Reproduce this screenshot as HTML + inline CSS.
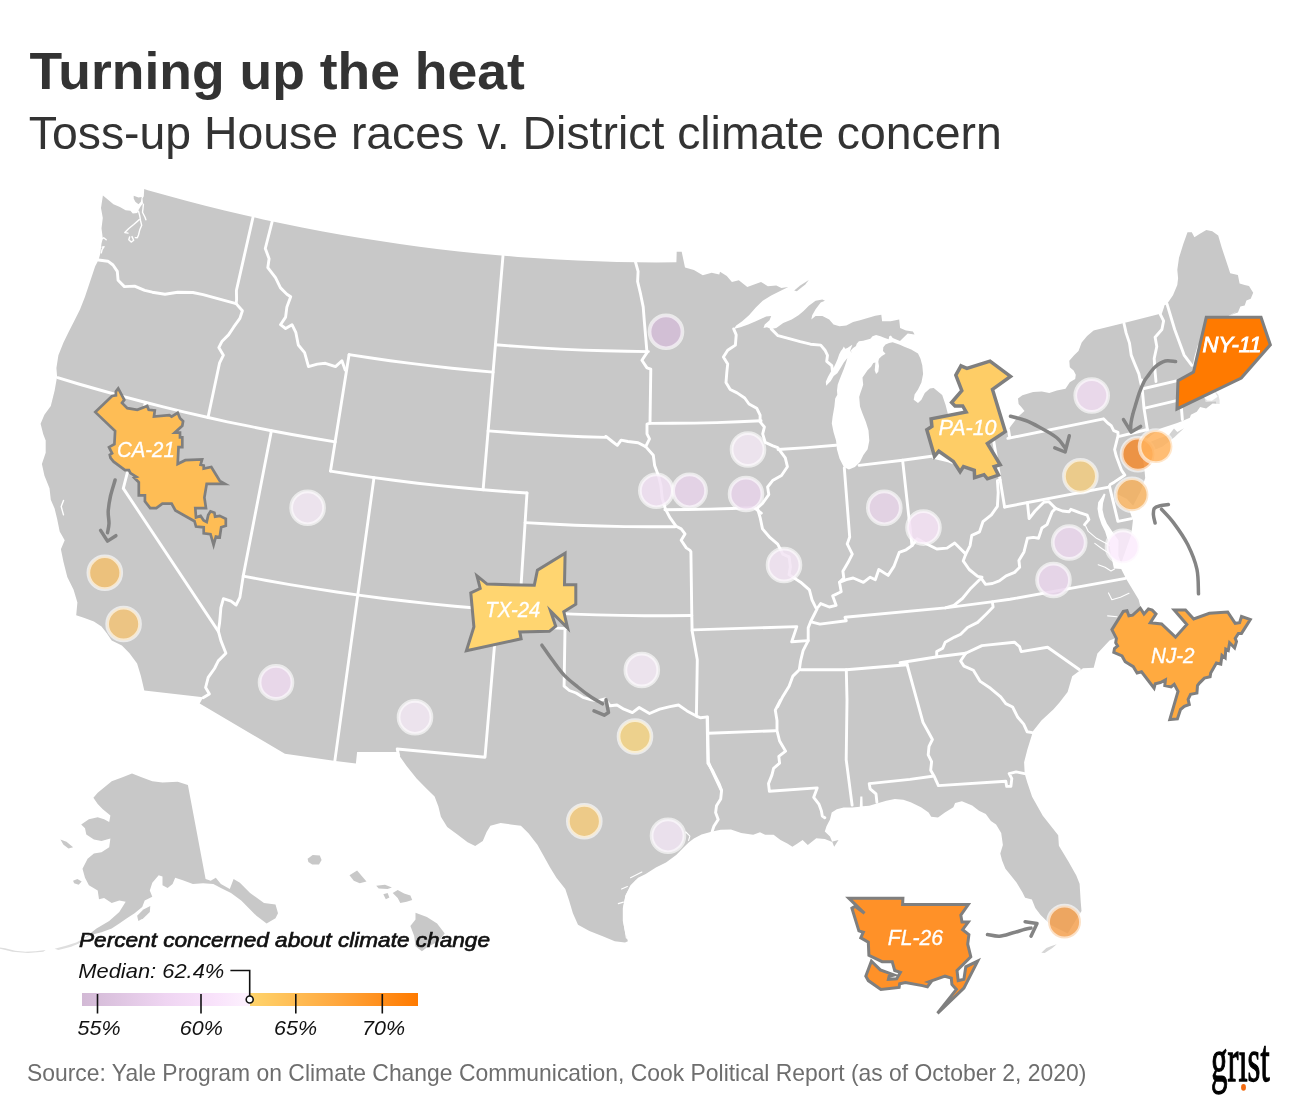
<!DOCTYPE html>
<html lang="en"><head><meta charset="utf-8"><title>Turning up the heat</title><style>html,body{margin:0;padding:0;background:#fff}svg{display:block}</style></head><body>
<svg width="1300" height="1113" viewBox="0 0 1300 1113">
<rect width="1300" height="1113" fill="#fff"/>
<g fill="#c8c8c8" stroke="none">
<path d="M102.9,195.4 L107.8,199.4 L113.4,204.3 L119.9,207.1 L125.6,210.3 L130.4,210.7 L132.8,213.5 L137.3,213.1 L138.5,209.9 L140.9,205.9 L143.0,203.4 L142.5,198.6 L143.8,196.2 L144.2,188.9 L147.8,190.3 L166.9,195.6 L186.1,200.8 L205.3,205.8 L224.5,210.5 L243.8,215.1 L263.1,219.4 L282.5,223.6 L302.0,227.5 L321.4,231.2 L340.9,234.7 L360.5,238.0 L380.1,241.1 L399.7,244.0 L419.3,246.7 L439.0,249.2 L458.7,251.4 L478.4,253.5 L498.2,255.3 L517.9,256.9 L537.7,258.3 L557.5,259.5 L577.3,260.5 L597.1,261.3 L616.9,261.9 L636.7,262.2 L656.5,262.4 L676.4,262.3 L676.7,251.8 L681.7,251.8 L685.0,267.6 L693.9,270.1 L702.8,275.2 L711.7,272.7 L719.3,274.4 L720.0,271.7 L726.8,276.0 L731.9,281.9 L738.8,280.2 L747.3,287.1 L754.1,284.5 L761.0,281.9 L767.8,286.2 L776.3,285.4 L781.4,287.9 L788.3,287.1 L779.7,291.3 L771.2,295.6 L762.7,300.7 L755.8,307.5 L749.0,315.2 L742.2,321.2 L736.2,325.5 L733.7,328.9 L740.5,327.2 L748.2,324.6 L755.8,321.2 L761.8,318.6 L766.1,316.4 L771.2,316.1 L769.5,320.3 L764.7,324.6 L763.5,328.0 L766.9,327.2 L771.2,328.9 L776.3,328.0 L783.2,322.9 L791.7,319.5 L798.5,315.2 L803.6,311.0 L808.8,305.8 L815.6,300.7 L822.4,299.4 L825.0,300.7 L820.7,302.4 L815.6,309.3 L812.2,315.2 L811.3,319.5 L815.6,316.1 L822.4,316.1 L829.2,319.5 L833.5,324.6 L839.5,326.3 L846.3,325.5 L853.1,322.1 L860.0,320.3 L868.5,317.8 L875.3,315.7 L881.3,314.7 L882.1,321.2 L890.7,321.2 L899.2,319.5 L900.1,328.0 L906.0,330.6 L912.9,331.4 L914.6,334.5 L907.7,333.5 L900.0,341.0 L896.3,339.6 L892.7,338.1 L890.9,335.5 L889.1,336.5 L888.7,339.3 L884.8,338.0 L880.5,336.2 L876.1,335.1 L872.5,336.2 L870.4,338.7 L866.8,339.8 L863.2,340.8 L858.9,341.2 L856.7,343.7 L856.0,345.9 L853.1,348.0 L851.0,350.2 L851.3,353.1 L850.3,350.2 L852.4,344.8 L850.3,345.9 L847.4,348.0 L845.2,348.8 L843.8,346.6 L842.7,348.8 L840.9,350.9 L839.1,354.5 L837.7,358.8 L835.9,363.1 L834.1,366.7 L830.8,371.8 L828.0,376.8 L825.8,381.8 L826.2,385.8 L830.8,381.1 L833.7,376.1 L837.3,373.2 L840.9,367.4 L843.8,362.4 L847.4,358.1 L845.9,363.1 L843.8,368.9 L841.6,374.6 L839.5,379.7 L837.7,384.7 L837.0,390.5 L837.3,394.8 L835.2,398.4 L834.4,406.5 L832.6,416.8 L831.8,423.6 L833.5,432.1 L836.1,440.7 L836.9,449.2 L839.5,458.5 L843.8,467.1 L848.9,469.6 L854.9,467.1 L860.0,461.9 L863.4,455.1 L867.6,449.2 L869.3,440.7 L868.5,430.4 L865.9,421.9 L862.5,413.4 L860.0,406.5 L859.2,396.9 L860.3,393.3 L861.8,389.0 L863.2,384.7 L862.8,381.1 L862.5,377.5 L864.6,374.6 L867.5,370.3 L871.1,366.7 L873.3,363.1 L875.4,362.4 L875.1,366.0 L874.7,370.3 L876.1,373.9 L878.3,371.8 L879.0,366.0 L878.3,361.7 L879.0,358.8 L881.9,355.9 L885.5,353.8 L883.0,350.9 L883.3,347.3 L885.5,344.4 L889.1,343.0 L892.7,342.3 L896.3,343.4 L899.9,344.8 L904.3,346.8 L911.2,349.4 L918.0,353.6 L920.5,358.8 L922.3,365.6 L923.1,374.1 L921.4,382.6 L918.0,389.5 L914.6,394.6 L913.7,399.7 L918.0,403.1 L921.4,399.7 L924.8,392.9 L929.9,388.6 L935.1,387.8 L933.7,388.0 L942.2,394.9 L945.6,405.1 L948.2,415.3 L948.7,429.4 L938.1,438.9 L937.1,447.4 L932.0,458.5 L947.9,462.3 L953.7,464.5 L970.6,459.0 L986.2,446.1 L1002.4,435.1 L1008.5,429.8 L1010.5,426.5 L1018.0,416.8 L1024.5,410.9 L1021.3,407.1 L1018.6,403.9 L1018.0,398.5 L1022.4,395.2 L1033.1,392.0 L1041.8,391.4 L1049.3,393.1 L1056.9,390.4 L1065.5,388.7 L1069.8,382.3 L1075.2,379.0 L1075.8,374.7 L1073.6,370.4 L1069.8,367.2 L1069.3,360.7 L1074.1,355.3 L1078.5,351.0 L1081.7,342.4 L1087.1,335.9 L1093.6,330.5 L1094.5,330.3 L1124.0,323.0 L1159.4,314.1 L1162.8,306.4 L1167.0,303.9 L1173.0,295.3 L1177.3,285.1 L1178.1,278.3 L1177.3,269.7 L1179.0,257.8 L1183.3,244.1 L1187.5,232.2 L1191.8,232.2 L1194.4,237.3 L1199.5,233.9 L1206.3,230.1 L1212.3,231.3 L1218.2,235.6 L1221.7,247.5 L1225.1,257.8 L1228.5,268.0 L1230.2,273.2 L1237.9,274.9 L1239.6,283.4 L1244.7,285.1 L1249.0,286.0 L1253.2,292.8 L1250.7,298.8 L1246.4,300.5 L1244.7,305.6 L1240.4,306.4 L1237.9,312.4 L1233.6,314.1 L1228.5,316.7 L1237.0,311.2 L1225.8,317.6 L1219.4,325.7 L1209.3,336.2 L1197.7,345.6 L1194.3,357.3 L1193.0,364.7 L1192.7,371.5 L1198.4,376.1 L1194.3,381.8 L1192.4,386.9 L1199.8,389.5 L1202.8,396.3 L1207.3,400.6 L1211.9,400.8 L1217.6,396.8 L1213.9,390.2 L1211.2,390.0 L1215.3,391.3 L1218.4,395.0 L1219.6,400.2 L1219.6,403.9 L1212.6,403.4 L1206.1,408.6 L1200.1,407.1 L1196.8,411.7 L1190.9,414.8 L1189.9,417.8 L1182.3,421.0 L1177.2,423.0 L1160.5,428.4 L1151.0,435.6 L1146.3,439.8 L1142.4,446.8 L1140.5,450.3 L1142.5,456.8 L1144.3,467.7 L1145.2,478.1 L1140.8,491.0 L1133.1,505.8 L1126.9,499.0 L1116.6,493.7 L1114.5,489.6 L1117.2,496.6 L1121.0,503.4 L1129.5,510.6 L1132.9,520.4 L1131.3,534.5 L1125.5,550.9 L1121.1,563.4 L1118.3,555.5 L1118.5,540.3 L1114.3,534.6 L1110.6,529.1 L1106.9,523.6 L1104.2,517.1 L1102.5,509.7 L1103.0,503.2 L1104.6,497.7 L1105.5,494.2 L1103.9,493.5 L1101.4,497.7 L1098.2,502.3 L1097.5,508.8 L1098.8,516.2 L1101.6,524.5 L1105.1,531.4 L1107.1,538.1 L1109.6,542.2 L1110.3,551.1 L1112.1,559.8 L1113.9,568.5 L1121.2,569.1 L1126.5,579.5 L1138.6,599.6 L1142.7,615.4 L1133.1,625.0 L1123.2,639.2 L1116.2,637.7 L1109.5,640.5 L1097.4,653.5 L1093.7,667.8 L1083.0,668.3 L1072.2,676.3 L1067.6,692.1 L1059.5,702.6 L1053.3,709.6 L1041.4,720.6 L1033.1,730.9 L1027.3,749.8 L1024.1,762.2 L1024.7,773.7 L1027.3,782.5 L1032.1,796.7 L1042.8,815.8 L1058.2,835.3 L1058.9,845.8 L1068.7,862.0 L1076.3,875.5 L1079.6,883.8 L1080.7,901.4 L1081.5,911.0 L1067.7,933.6 L1050.7,925.1 L1040.4,914.8 L1035.3,908.0 L1031.9,899.5 L1025.1,897.8 L1022.5,892.6 L1016.5,882.4 L1009.7,873.9 L1005.4,868.8 L1002.0,860.2 L1000.3,853.4 L1002.9,844.9 L1001.2,832.9 L996.1,824.4 L990.9,821.0 L985.8,814.1 L979.0,810.7 L972.2,805.6 L961.9,801.3 L955.1,803.0 L953.4,807.3 L944.9,812.4 L938.0,817.5 L931.2,816.7 L928.6,812.4 L921.0,807.3 L910.7,802.2 L903.3,799.8 L894.8,799.0 L886.3,800.7 L877.7,803.3 L869.2,805.8 L862.7,806.2 L862.4,796.4 L860.3,796.4 L859.8,806.7 L852.1,807.5 L843.6,807.5 L836.8,809.2 L831.7,812.6 L830.0,819.5 L826.5,826.3 L824.8,831.4 L830.0,836.5 L834.2,846.8 L838.5,840.0 L831.7,841.7 L824.8,839.1 L816.3,838.2 L807.8,845.1 L802.6,840.0 L797.5,843.4 L792.4,846.8 L787.3,843.4 L780.5,840.0 L773.6,834.8 L765.1,834.8 L760.0,832.3 L753.2,834.8 L741.2,833.1 L731.0,829.4 L720.7,829.7 L712.2,831.4 L701.5,834.6 L693.9,838.4 L688.9,842.2 L683.8,847.2 L676.2,854.9 L666.0,862.5 L655.9,867.6 L645.7,873.9 L638.1,877.7 L630.5,885.3 L625.4,895.5 L622.8,908.2 L622.8,920.9 L625.4,933.6 L627.9,941.2 L625.0,942.4 L614.8,941.2 L602.1,936.1 L589.4,931.0 L578.0,924.7 L572.9,913.3 L569.1,900.6 L565.3,889.1 L556.4,877.7 L550.1,867.6 L543.7,856.1 L537.4,844.7 L528.5,833.3 L520.9,825.7 L510.7,824.4 L500.6,823.1 L490.4,825.7 L486.6,832.0 L482.8,840.9 L475.2,846.0 L467.6,842.2 L457.4,834.6 L447.2,826.9 L440.9,816.8 L438.4,806.6 L434.6,796.5 L426.9,788.9 L416.8,778.7 L406.6,766.0 L398.5,754.6 L398.5,752.0 L357.1,752.0 L355.9,763.5 L335.5,760.9 L284.9,753.7 L199.7,703.6 L203.2,697.3 L144.3,690.5 L140.9,676.1 L137.1,663.4 L129.5,653.3 L121.9,645.6 L111.7,640.6 L106.6,632.9 L101.5,626.6 L93.9,621.5 L83.8,617.7 L76.2,615.2 L77.4,602.5 L73.6,589.8 L67.3,577.1 L63.5,561.9 L60.9,549.2 L64.7,540.3 L59.7,531.4 L57.1,518.7 L54.6,508.5 L50.8,499.7 L49.5,488.2 L44.4,475.5 L41.9,464.1 L45.7,452.7 L45.7,440.0 L47.0,444.0 L43.2,433.9 L40.6,423.7 L44.4,414.8 L50.8,405.9 L54.6,390.7 L57.1,376.8 L56.4,367.9 L58.4,355.2 L63.5,342.5 L68.5,332.3 L73.6,322.2 L80.0,309.5 L85.0,296.8 L90.1,281.5 L95.2,266.3 L98.5,260.0 L100.3,253.6 L101.5,243.5 L102.8,238.4 L101.5,228.2 L102.8,218.1 L101.0,207.9Z"/>
<path d="M1140.9,453.2 L1150.3,451.6 L1162.7,446.5 L1174.1,437.5 L1184.0,428.3 L1177.3,432.1 L1174.0,428.4 L1169.0,435.1 L1158.4,438.4 L1150.2,441.9 L1144.5,446.3 L1140.9,450.2Z" opacity=".8"/>
<path d="M794.2,290.5 L800.2,285.4 L808.8,279.9 L805.3,284.5 L796.8,291.3Z"/>
<path d="M133.7,195.8 L138.5,197.4 L141.7,197.0 L140.9,201.8 L138.5,204.3 L135.3,201.8 L133.7,198.6Z"/>
<path d="M132.0,773.6 L142.2,777.4 L152.3,781.2 L162.5,782.5 L177.7,781.7 L187.9,785.0 L205.6,879.0 L210.7,880.8 L215.8,877.7 L220.9,884.1 L229.8,889.1 L233.6,879.0 L239.9,882.8 L250.1,892.9 L264.0,903.1 L275.5,904.4 L278.0,913.3 L275.5,918.3 L266.6,923.4 L256.4,915.8 L250.1,909.4 L241.2,900.6 L231.0,892.9 L220.9,887.9 L213.3,884.1 L203.1,883.3 L192.9,884.1 L182.8,880.2 L175.2,877.7 L172.6,884.1 L167.6,887.9 L162.5,885.3 L162.5,876.4 L158.7,875.2 L152.3,882.8 L149.8,890.4 L152.3,896.8 L144.7,900.6 L142.2,906.9 L134.6,913.3 L126.9,918.3 L119.3,923.4 L111.7,928.5 L101.5,932.3 L91.4,934.8 L83.8,938.6 L96.5,928.5 L109.2,920.9 L119.3,912.0 L125.7,901.8 L119.3,900.6 L111.7,903.1 L104.1,898.0 L99.0,899.3 L97.7,890.4 L88.9,885.3 L85.0,877.7 L82.5,868.8 L87.6,858.7 L93.9,853.6 L101.5,852.3 L109.2,847.2 L110.4,838.4 L101.5,840.9 L93.9,839.6 L86.3,834.6 L85.0,828.2 L81.2,824.4 L88.9,819.3 L97.7,817.3 L104.1,819.3 L109.2,821.9 L110.4,815.5 L102.8,809.2 L97.7,804.1 L93.4,797.7 L97.7,792.7 L104.1,787.6 L111.7,781.2 L121.9,777.4Z"/>
<path d="M60.4,839.6 L66.5,841.7 L73.1,847.2 L68.5,848.5 L63.5,844.7Z"/>
<path d="M73.1,880.8 L77.4,879.0 L81.7,881.5 L78.7,884.8 L74.1,883.3Z"/>
<path d="M137.1,915.8 L143.4,909.4 L150.3,906.1 L149.8,912.0 L143.4,918.3 L138.4,920.9Z"/>
<path d="M83.8,938.6 L76.2,942.4 L66.0,945.7 L54.6,948.8 L58.4,950.1 L71.1,946.8 L81.2,942.4Z" fill="#dedede"/>
<path d="M45.7,950.1 L35.5,951.3 L25.4,951.8 L15.2,950.8 L5.1,948.3 L0.0,947.5 L0.0,948.8 L12.7,951.8 L27.9,953.1 L43.2,951.8Z" fill="#dedede"/>
<path d="M307.6,858.7 L312.7,854.9 L319.8,855.4 L321.6,859.9 L319.0,864.5 L312.2,864.5 L308.4,862.0Z"/>
<path d="M349.5,875.2 L357.1,870.6 L362.2,876.4 L366.5,881.5 L359.7,883.3 L353.8,880.8Z"/>
<path d="M376.2,885.8 L385.0,884.8 L391.9,887.4 L387.6,889.1 L378.7,888.4Z"/>
<path d="M383.3,894.2 L387.6,892.9 L389.4,897.5 L385.8,899.3Z"/>
<path d="M392.7,892.9 L397.7,889.9 L404.1,893.5 L410.4,895.5 L412.2,900.1 L406.6,901.8 L400.3,903.1 L397.7,898.0Z"/>
<path d="M415.5,912.7 L426.9,917.1 L437.1,923.4 L444.7,933.6 L438.4,941.2 L426.9,947.5 L421.9,951.3 L415.5,946.3 L414.2,936.1 L410.4,925.9 L415.5,919.6Z"/>
<path d="M1041.3,952.7 L1046.4,948.1 L1051.5,945.9 L1056.7,944.2 L1052.4,948.1 L1044.7,953.1Z" fill="#d6d6d6"/>
</g>
<g fill="none" stroke="#fff" stroke-width="1.4" stroke-linecap="round" stroke-linejoin="round">
<path d="M138.5,211.1 L139.7,215.6 L140.5,220.4 L141.7,225.3 L139.7,230.1 L138.5,235.0 L137.3,237.8 L135.3,237.6"/>
<path d="M143.4,204.3 L143.0,208.3 L142.5,212.3 L145.0,217.2 L145.9,219.8"/>
<path d="M139.3,219.6 L133.7,224.5 L128.8,228.5 L124.8,232.5 L128.0,233.1"/>
<path d="M129.6,237.0 L128.8,239.8 L131.2,242.1 L133.7,240.2 L132.0,236.6"/>
<path d="M63.5,500.4 L61.2,506.5 L63.5,514.9"/>
<path d="M100.9,239.4 L103.7,237.8 L106.2,239.8"/>
<path d="M102.1,247.1 L104.1,246.7 L102.1,249.5 L101.3,252.8"/>
</g>
<path d="M1203.9,396.3 L1211.3,390.8 L1222.3,391.2 L1223.3,408.8 L1216.8,408.8 L1215.9,401.4 L1205.7,402.1Z" fill="#fff" fill-opacity=".5"/>
<g fill="none" stroke="#fff" stroke-width="1.1" stroke-linecap="round" stroke-linejoin="round">
<path d="M626.4,938.1 L624.1,923.4 L623.6,908.2 L626.1,895.5 L631.0,886.6 L636.0,880.8"/>
<path d="M618.3,903.6 L623.4,902.1"/>
<path d="M621.6,889.1 L627.4,886.6"/>
<path d="M685.8,832.0 L689.9,836.1 L688.6,840.4"/>
<path d="M630.5,877.7 L635.5,875.2 L641.9,872.1"/>
<path d="M1085.4,525.5 L1088.3,531.4 L1096.5,538.3 L1106.8,543.7 L1114.5,548.9"/>
<path d="M1094.8,543.4 L1101.7,548.5 L1110.2,554.0"/>
<path d="M1098.2,564.7 L1105.1,567.3 L1111.0,571.0 L1114.5,569.0"/>
<path d="M1108.5,592.9 L1111.9,599.7 L1120.4,597.2 L1129.0,593.2"/>
<path d="M1107.6,615.9 L1117.0,616.8"/>
</g>
<g fill="none" stroke="#fff" stroke-width="2.9" stroke-linecap="round" stroke-linejoin="round">
<path d="M98.5,260.0 L107.9,261.2 L113.0,265.0 L117.3,271.4 L118.1,280.3 L124.4,286.6 L134.6,286.1 L144.7,290.4 L152.3,292.2 L165.0,294.2 L177.7,292.2 L192.9,292.5 L203.1,294.7 L236.1,303.6"/>
<path d="M253.0,217.2 L236.4,290.5 L236.6,299.3 L236.1,303.6"/>
<path d="M236.1,303.6 L242.4,310.7 L239.9,318.4 L233.6,327.2 L228.5,334.9 L222.1,341.2 L218.8,347.6 L223.4,355.2 L219.6,362.8 L208.0,417.5"/>
<path d="M272.2,221.4 L265.3,248.5 L269.1,258.7 L267.8,267.6 L275.5,277.7 L280.5,287.9 L286.9,294.2 L290.7,296.8 L286.9,306.9 L285.6,317.1 L280.5,324.7 L285.6,328.5 L292.0,324.7 L295.8,332.3 L298.3,345.0 L304.6,352.6 L308.5,366.6 L317.3,364.1 L325.4,363.3 L335.5,366.6 L341.9,360.8 L345.2,369.9"/>
<path d="M57.7,377.7 L78.7,384.0 L99.8,390.0 L120.9,395.9 L142.1,401.5 L163.3,406.9 L184.6,412.1 L206.0,417.0 L227.4,421.8 L248.9,426.2 L270.4,430.5 L291.9,434.5 L313.5,438.3 L335.2,441.9"/>
<path d="M349.1,354.6 L330.5,471.1"/>
<path d="M349.1,354.6 L369.6,357.7 L390.1,360.7 L410.7,363.4 L431.3,365.9 L451.9,368.2 L472.5,370.3 L493.1,372.1"/>
<path d="M503.0,255.7 L483.1,489.8"/>
<path d="M330.5,471.1 L352.2,474.5 L374.0,477.6 L395.8,480.5 L417.6,483.2 L439.4,485.6 L461.3,487.8 L483.1,489.8 L505.0,491.5 L527.0,493.0"/>
<path d="M271.4,430.7 L243.2,576.1 L239.9,597.4 L236.1,605.0 L231.0,601.2 L223.4,598.7 L220.9,607.6 L219.6,622.8 L218.3,630.9"/>
<path d="M145.5,402.4 L123.3,488.4 L218.5,631.6"/>
<path d="M218.3,630.9 L220.9,640.6 L225.9,653.3 L218.3,660.9 L214.5,668.5 L208.2,677.4 L205.6,687.5 L209.4,693.9 L203.1,697.7"/>
<path d="M243.2,576.1 L266.6,580.5 L289.9,584.6 L313.4,588.4 L336.8,592.0 L360.4,595.4 L383.9,598.5 L407.5,601.3 L431.1,603.9 L454.7,606.2 L478.3,608.3 L502.0,610.1 L525.7,611.7 L549.4,613.0 L573.1,614.1 L596.9,614.9 L620.6,615.4 L644.4,615.7 L668.1,615.8 L691.8,615.5"/>
<path d="M374.0,477.6 L334.8,761.1"/>
<path d="M527.0,493.0 L519.4,611.3"/>
<path d="M525.1,522.6 L550.1,524.0 L575.1,525.2 L600.1,526.0 L625.1,526.6 L650.1,526.8 L675.2,526.8"/>
<path d="M488.1,430.9 L511.8,432.7 L535.4,434.3 L559.1,435.6 L582.7,436.7 L606.4,437.4 L605.9,436.4 L612.3,441.5 L617.3,445.3 L621.1,440.2 L627.9,441.5 L638.1,442.8 L645.7,446.6 L653.3,455.2 L654.6,465.4 L658.4,475.5 L660.9,485.7 L662.2,498.4 L665.5,509.1 L669.8,517.4 L676.2,526.3 L681.2,528.9 L685.0,533.9 L681.2,540.3 L686.3,547.9 L690.1,550.4 L690.9,551.7 L691.8,615.5 L692.1,630.4"/>
<path d="M495.5,344.7 L517.3,346.4 L539.1,347.9 L560.9,349.1 L582.8,350.1 L604.6,350.8 L626.5,351.3 L648.4,351.6"/>
<path d="M635.5,262.0 L638.1,271.4 L637.6,281.5 L640.6,294.2 L643.2,306.9 L644.4,322.2 L645.7,337.4 L647.0,352.6 L641.9,360.2 L647.0,367.9 L650.8,369.1 L650.0,423.2 L647.0,424.2 L647.0,433.9 L649.5,438.9 L645.7,446.6"/>
<path d="M650.3,423.4 L672.4,423.3 L694.6,423.1 L716.8,422.6 L738.9,421.8 L761.1,420.8"/>
<path d="M664.9,509.7 L687.2,509.5 L709.5,509.1 L731.8,508.5 L754.1,507.6 L761.3,513.2"/>
<path d="M497.4,609.8 L496.3,624.6 L485.0,757.2 L397.2,749.0 L398.7,755.7"/>
<path d="M496.3,624.6 L566.3,628.6 L565.0,629.0 L564.1,686.2 L569.3,690.5 L576.1,693.0 L582.9,697.3 L591.4,699.8 L598.3,700.7 L605.1,699.0 L610.2,705.8 L617.0,705.0 L623.9,709.2 L632.4,712.6 L639.2,707.5 L649.5,713.5 L659.7,709.2 L670.0,706.7 L678.5,705.0 L687.0,710.9 L696.4,716.1 L700.7,717.8 L707.5,716.9 L708.4,762.1 L710.9,768.1 L715.2,777.5 L721.2,790.0"/>
<path d="M707.1,717.1 L707.9,763.2 L712.2,770.0 L715.6,776.8 L719.0,783.6 L721.6,790.5 L720.7,799.0 L716.5,805.8 L715.6,812.6 L718.2,819.5 L713.9,826.3 L712.2,831.4"/>
<path d="M692.1,630.7 L697.3,659.7 L696.4,716.1"/>
<path d="M693.4,629.9 L796.8,626.6 L791.7,641.8 L808.2,640.6"/>
<path d="M708.4,733.3 L775.3,730.7"/>
<path d="M733.7,328.9 L736.2,334.9 L735.4,345.1 L727.7,350.2 L723.4,357.0 L727.7,363.9 L726.8,372.4 L726.0,382.6 L730.2,389.5 L737.1,392.9 L744.7,398.0 L749.0,404.0 L756.7,408.2 L760.1,415.1 L760.1,421.9 L764.4,427.0 L762.7,433.9 L765.2,442.4 L772.9,445.8 L777.7,447.6 L785.3,457.8 L787.4,466.7 L781.5,475.5 L772.6,480.6 L767.6,487.0 L768.8,494.6 L762.5,503.5 L757.4,508.0 L760.4,518.7 L762.5,528.9 L770.1,537.7 L777.7,544.1 L782.8,554.2 L789.1,556.8 L790.4,566.9 L789.1,574.6 L800.6,582.2 L809.4,589.8 L812.0,599.9 L815.8,607.6 L817.1,608.8 L810.7,621.5 L808.2,627.9 L808.2,640.6 L803.1,650.7 L800.6,660.9 L799.3,669.8 L792.9,676.1 L789.1,686.3 L782.8,696.4 L777.7,706.6 L780.5,700.0 L775.3,710.2 L777.0,720.5 L777.0,730.7 L779.6,741.0 L785.6,751.2 L778.8,756.3 L779.6,763.2 L773.6,768.3 L771.9,775.1 L768.5,783.6 L769.4,791.3 L817.2,787.9 L813.7,797.3 L818.9,804.1 L821.4,810.9 L822.3,816.1 L824.8,817.8"/>
<path d="M771.2,328.9 L778.0,335.7 L788.3,338.3 L800.2,341.7 L810.5,344.2 L820.7,345.1 L825.0,350.2 L827.5,355.3 L826.7,361.3 L831.8,365.6 L832.6,372.4"/>
<path d="M778.0,449.5 L807.0,447.6 L835.9,445.3"/>
<path d="M844.3,467.9 L849.7,537.0 L847.2,543.9 L852.3,554.1 L848.0,562.6 L842.9,571.2 L843.8,578.0 L839.5,582.3"/>
<path d="M859.1,465.4 L902.6,460.2 L933.4,456.0"/>
<path d="M902.6,460.2 L912.0,545.6"/>
<path d="M818.2,607.0 L820.7,603.6 L829.3,607.0 L836.1,605.3 L832.7,595.9 L841.2,591.7 L839.5,582.3 L846.3,579.7 L853.2,578.0 L863.4,582.3 L870.2,577.2 L875.3,579.7 L878.8,569.5 L888.1,575.4 L894.1,566.1 L899.2,552.4 L906.1,549.8 L912.0,545.6 L917.2,538.8 L924.8,543.0 L936.8,549.0 L947.0,548.1 L954.7,543.0 L960.7,549.0 L965.8,554.1 L970.1,545.6 L971.8,535.3 L979.5,531.9 L982.9,521.7 L991.4,514.9 L997.4,506.3 L998.2,492.7 L997.4,480.7 L1000.1,480.1"/>
<path d="M1008.5,429.8 L1009.8,437.7"/>
<path d="M993.6,440.4 L1004.6,507.0"/>
<path d="M965.8,554.1 L963.2,560.9 L969.2,569.5 L977.7,576.3 L982.0,577.2 L970.9,588.2 L962.4,598.5 L953.9,605.3 L945.3,607.9"/>
<path d="M811.2,621.8 L819.9,624.1 L846.3,620.7 L845.0,617.3 L945.3,607.9 L991.4,601.9 L1010.0,599.3 L1125.6,578.4"/>
<path d="M992.3,601.9 L993.1,607.0 L986.3,613.9 L977.7,622.4 L967.5,627.5 L960.7,634.3 L954.6,637.1 L945.2,642.2 L942.7,648.2 L936.7,651.6 L936.7,656.7"/>
<path d="M800.6,669.8 L846.3,669.8 L907.2,664.7 L900.0,662.7 L937.5,656.7 L965.7,653.3"/>
<path d="M846.3,669.8 L847.0,700.0 L846.2,759.7 L852.1,805.0"/>
<path d="M906.8,663.5 L923.0,722.4 L928.2,731.8 L932.4,739.5 L929.0,746.3 L928.2,754.8 L931.6,761.7 L930.7,770.2 L934.1,776.2 L938.4,785.6 L1005.8,781.3 L1006.7,786.4 L1010.9,786.4 L1011.8,778.7 L1009.2,773.6 L1016.1,771.9 L1024.6,773.6"/>
<path d="M876.9,802.4 L876.0,793.9 L870.1,788.8 L869.2,783.6 L910.0,779.4 L932.4,776.2"/>
<path d="M965.7,653.3 L960.6,661.0 L964.0,666.1 L973.4,670.3 L980.2,681.4 L990.5,688.3 L1000.7,696.8 L1005.8,703.6 L1012.6,707.0 L1017.8,717.3 L1023.7,724.1 L1027.2,731.8 L1032.3,732.6"/>
<path d="M965.7,653.3 L981.9,645.6 L1014.4,642.2 L1019.5,646.5 L1021.2,651.6 L1047.6,647.3 L1079.2,669.5"/>
<path d="M981.3,578.4 L985.6,584.4 L992.4,583.5 L999.3,580.9 L1006.1,575.8 L1014.6,572.4 L1019.7,567.3 L1018.9,560.5 L1024.0,551.9 L1027.4,538.3 L1033.4,537.4 L1038.5,538.3 L1041.9,528.0 L1047.0,524.6 L1052.2,511.8 L1055.6,508.4 L1062.4,511.0 L1069.2,511.8 L1070.9,509.3 L1079.5,512.7 L1087.2,515.2 L1088.9,519.5 L1084.6,524.6"/>
<path d="M1027.4,502.4 L1029.1,518.6 L1035.1,511.0 L1043.6,502.4 L1048.8,501.6 L1053.0,505.8 L1055.6,508.4"/>
<path d="M1004.6,507.0 L1108.7,487.2"/>
<path d="M1007.9,438.4 L1103.5,418.8 L1107.7,423.0 L1111.2,425.6 L1113.7,430.7 L1118.0,432.4 L1118.0,435.8 L1116.3,442.6 L1114.6,449.5 L1116.3,456.3 L1118.8,463.1 L1121.4,470.0 L1124.8,475.1 L1119.7,478.5 L1114.6,481.9 L1110.3,484.5"/>
<path d="M1119.3,436.3 L1147.4,429.5"/>
<path d="M1109.4,485.8 L1117.9,521.3 L1131.5,518.6"/>
<path d="M1124.0,323.5 L1126.1,332.9 L1129.5,343.1 L1131.2,355.1 L1134.6,363.6 L1138.9,373.9 L1140.6,382.4 L1142.3,389.2 L1141.4,380.0 L1144.0,408.2 L1147.4,429.5"/>
<path d="M1162.8,306.4 L1160.2,314.1 L1163.6,320.9 L1161.9,329.5 L1155.1,337.2 L1156.8,346.5 L1154.2,358.5 L1155.1,372.1 L1156.0,381.5"/>
<path d="M1167.0,303.9 L1174.7,329.5 L1184.1,355.1 L1191.8,365.3"/>
<path d="M1144.0,388.5 L1176.4,380.9"/>
<path d="M1144.9,408.2 L1180.7,399.6 L1182.4,419.6"/>
</g>
<g stroke="#fff" stroke-opacity=".62" stroke-width="3.7" fill-opacity=".85">
<circle cx="666" cy="331.8" r="16.45" fill="#d4bdd7"/>
<circle cx="748" cy="449.5" r="16.45" fill="#f2e7f3"/>
<circle cx="656.3" cy="490.8" r="16.45" fill="#f1e0f3"/>
<circle cx="689.6" cy="490.8" r="16.45" fill="#e8d4ea"/>
<circle cx="746" cy="494" r="16.45" fill="#e8d4ea"/>
<circle cx="784" cy="565" r="16.45" fill="#f2e4f3"/>
<circle cx="884.3" cy="507.8" r="16.45" fill="#e6d3e8"/>
<circle cx="923.5" cy="527.6" r="16.45" fill="#f4e2f5"/>
<circle cx="641.8" cy="670" r="16.45" fill="#f2e8f3"/>
<circle cx="307.6" cy="507.8" r="16.45" fill="#f2e8f3"/>
<circle cx="276" cy="682.4" r="16.45" fill="#edd9ef"/>
<circle cx="415" cy="717.3" r="16.45" fill="#f2e8f3"/>
<circle cx="668" cy="835.8" r="16.45" fill="#f0e4f2"/>
<circle cx="635" cy="736.5" r="16.45" fill="#f3d283"/>
<circle cx="584.3" cy="821.3" r="16.45" fill="#f3ca7c"/>
<circle cx="104.8" cy="572.7" r="16.45" fill="#f2bf6e"/>
<circle cx="123.6" cy="624" r="16.45" fill="#f2c377"/>
<circle cx="1091.7" cy="395.5" r="16.45" fill="#eedaf0"/>
<circle cx="1080.4" cy="476.2" r="16.45" fill="#f1cb80"/>
<circle cx="1138" cy="454.2" r="16.45" fill="#f28a2e"/>
<circle cx="1156" cy="446.6" r="16.45" fill="#ffb25c"/>
<circle cx="1132" cy="494.7" r="16.45" fill="#f5b05e"/>
<circle cx="1069.2" cy="542.5" r="16.45" fill="#ead6ec"/>
<circle cx="1053.5" cy="580" r="16.45" fill="#ead6ec"/>
<circle cx="1123" cy="546.8" r="16.45" fill="#fcebfd"/>
<circle cx="1064.5" cy="922" r="16.45" fill="#f3a04f"/>
</g>
<g stroke="#7f7f7f" stroke-width="3.1" stroke-linejoin="miter" stroke-miterlimit="6">
<path d="M118.2,388.4 L124.3,399.8 L122.0,402.9 L127.3,408.2 L137.3,409.8 L147.2,406.0 L148.7,409.8 L154.8,410.5 L154.0,416.6 L169.3,415.1 L171.6,416.6 L177.7,412.8 L180.0,418.2 L183.1,421.2 L182.3,425.8 L174.7,432.7 L180.0,432.7 L180.0,437.3 L182.3,437.3 L182.3,447.2 L178.5,447.2 L177.7,464.0 L185.3,460.2 L202.1,459.4 L200.6,464.7 L203.7,465.5 L203.7,468.5 L211.3,467.0 L219.7,480.8 L225.0,483.8 L206.7,483.8 L204.4,497.6 L206.0,508.2 L195.3,508.2 L196.0,517.4 L200.6,515.9 L203.7,520.5 L206.7,522.0 L208.2,515.1 L210.5,511.3 L214.4,512.8 L215.1,516.6 L219.7,515.9 L225.8,518.9 L225.8,525.8 L221.2,527.3 L219.7,537.3 L215.9,536.5 L213.6,544.9 L210.5,534.2 L203.7,533.4 L203.7,527.3 L196.0,526.6 L194.5,521.2 L175.4,510.5 L171.6,503.7 L162.4,503.7 L156.3,508.2 L150.2,508.2 L144.9,501.4 L144.9,495.3 L138.8,495.3 L138.8,482.3 L134.2,477.7 L136.5,476.9 L130.4,473.1 L128.9,470.1 L125.0,470.1 L113.6,461.7 L110.5,457.9 L109.8,454.8 L112.1,453.3 L109.0,447.2 L114.4,444.1 L115.1,431.1 L95.3,412.1 L112.1,396.0 L115.9,395.3 L115.9,391.5Z" fill="#febd55" stroke-width="2.7"/>
<path d="M477.0,575.9 L487.1,584.1 L534.3,585.3 L537.4,570.3 L565.1,553.3 L564.5,584.7 L575.8,584.7 L575.8,604.2 L563.8,611.8 L567.6,628.1 L550.6,611.1 L555.7,626.2 L549.4,631.3 L519.8,631.9 L521.1,638.8 L466.4,650.8 L473.9,626.9 L470.8,592.9 L480.2,588.5Z" fill="#ffd570" stroke-width="3"/>
<path d="M961.0,365.8 L966.9,368.4 L990.0,361.2 L1010.5,376.4 L992.5,389.4 L1005.3,431.6 L987.4,443.5 L1000.2,464.8 L994.2,466.5 L998.5,475.1 L987.4,478.8 L984.0,474.7 L974.6,477.6 L974.3,470.3 L963.5,466.5 L960.1,471.7 L953.3,461.4 L938.8,451.2 L934.5,456.3 L926.8,429.8 L931.9,426.4 L931.1,418.8 L966.1,411.9 L962.7,406.0 L955.0,406.0 L951.6,402.5 L961.8,390.6 L955.8,375.2Z" fill="#fecd66" stroke-width="3.5"/>
<path d="M1111.9,629.6 L1123.3,611.4 L1127.0,610.8 L1128.9,615.8 L1132.7,615.2 L1140.3,608.2 L1144.0,613.9 L1148.4,608.9 L1152.2,610.1 L1156.0,613.9 L1150.3,622.7 L1161.6,624.0 L1175.5,637.2 L1186.8,624.6 L1174.2,610.1 L1185.5,610.1 L1193.7,618.9 L1209.4,613.3 L1227.7,612.0 L1235.2,623.3 L1239.6,622.7 L1241.5,616.4 L1250.3,619.6 L1241.5,633.4 L1238.4,633.4 L1235.2,638.4 L1236.5,641.6 L1234.6,647.9 L1229.6,642.8 L1228.3,650.4 L1225.8,649.1 L1225.2,657.9 L1222.0,655.4 L1220.8,664.2 L1216.4,663.0 L1210.7,673.0 L1210.1,676.8 L1204.4,678.1 L1199.4,683.1 L1197.5,685.6 L1196.9,693.1 L1190.6,694.4 L1188.1,699.4 L1189.3,704.5 L1184.3,706.4 L1180.5,709.5 L1177.4,718.9 L1169.8,719.6 L1178.0,691.3 L1174.2,684.3 L1171.1,686.9 L1164.8,685.6 L1165.4,679.9 L1160.4,682.5 L1155.3,683.7 L1154.1,688.1 L1141.5,671.8 L1137.1,673.0 L1133.3,666.7 L1125.2,661.7 L1122.0,656.0 L1113.8,652.3 L1114.5,648.5 L1117.6,646.0 L1115.7,642.8 L1116.4,638.4Z" fill="#ffaa40" stroke-width="3"/>
<path d="M848.8,898.2 L902.9,898.2 L902.6,904.5 L968.3,904.5 L960.8,915.2 L962.0,922.1 L968.3,922.1 L962.6,929.7 L968.9,934.7 L967.7,944.1 L970.8,956.7 L957.0,970.5 L958.2,980.6 L963.9,979.3 L965.8,966.8 L977.7,961.1 L963.9,988.1 L937.5,1013.3 L956.4,989.4 L951.9,984.4 L951.3,978.1 L945.0,976.2 L928.7,981.9 L930.6,982.5 L927.4,986.9 L922.4,985.6 L905.4,982.5 L899.7,983.7 L899.1,987.5 L880.9,989.4 L868.3,980.6 L865.8,976.2 L871.4,961.1 L880.3,969.9 L894.1,974.9 L889.1,976.2 L888.4,979.3 L896.6,978.7 L900.4,972.4 L894.7,970.5 L892.2,961.7 L882.1,961.7 L868.9,955.4 L868.3,942.2 L860.8,937.8 L863.3,932.2 L858.9,930.9 L851.9,908.3 L855.1,906.4 L864.5,913.3Z" fill="#ff9128" stroke-width="3"/>
<path d="M1206.3,317.2 L1261.0,317.2 L1270.3,344.8 L1241.3,378.1 L1177.0,409.0 L1178.0,380.7 L1193.5,372.0Z" fill="#ff7a00"/>
</g>
<g fill="none" stroke="#848484" stroke-width="3.5" stroke-linecap="round" stroke-linejoin="round">
<path d="M115.1,480.0 C114.4,482.7 111.7,490.8 110.5,496.0 C109.4,501.2 108.5,506.7 108.2,511.3 C108.0,515.9 109.1,519.9 109.0,523.5 C108.9,527.1 107.7,531.1 107.5,532.7"/>
<path d="M100.6,530.4 L107.5,541.1 L115.9,535.7"/>
<path d="M541.9,645.2 C543.7,647.6 548.5,654.8 552.2,659.7 C555.9,664.7 559.9,670.5 564.1,675.1 C568.4,679.6 573.2,683.3 577.8,687.0 C582.3,690.7 587.3,694.5 591.4,697.3 C595.6,700.1 600.7,702.7 602.5,703.8"/>
<path d="M594.0,710.9 L604.2,715.2 L608.5,712.6 L606.0,699.8"/>
<path d="M1010.5,416.2 C1013.0,416.9 1021.0,418.6 1025.8,420.5 C1030.7,422.3 1034.4,424.4 1039.5,427.3 C1044.6,430.1 1052.3,434.1 1056.5,437.5 C1060.8,440.9 1063.7,446.1 1065.1,447.8"/>
<path d="M1054.8,447.8 L1065.1,452.0 L1069.3,435.8"/>
<path d="M1175.6,361.6 C1173.9,361.5 1168.7,360.1 1165.3,361.0 C1161.9,361.9 1158.1,364.4 1155.1,367.0 C1152.1,369.6 1149.4,374.0 1147.5,376.5 C1145.6,379.0 1145.3,379.2 1143.9,382.0 C1142.5,384.8 1140.6,389.2 1139.2,393.1 C1137.8,397.0 1136.6,401.6 1135.5,405.1 C1134.4,408.6 1133.5,411.3 1132.8,414.3 C1132.0,417.3 1131.4,420.2 1131.0,423.0 C1130.6,425.8 1130.7,429.7 1130.6,431.0"/>
<path d="M1123.5,419.6 L1131.2,432.1 L1140.6,426.4"/>
<path d="M1198.5,593.8 C1198.2,589.7 1198.7,577.4 1196.9,569.2 C1195.1,561.0 1191.5,552.3 1187.7,544.6 C1183.8,536.9 1178.2,529.0 1173.8,523.1 C1169.5,517.2 1163.6,511.5 1161.5,509.2"/>
<path d="M1155.1,523.0 C1154.8,521.7 1153.5,517.3 1153.4,514.8 C1153.3,512.4 1153.3,509.9 1154.4,508.3 C1155.6,506.8 1157.9,506.4 1160.2,505.8 C1162.6,505.2 1167.0,504.8 1168.4,504.6"/>
<path d="M987.5,934.5 C989.5,934.7 995.2,936.5 999.5,936.2 C1003.7,935.9 1008.9,933.9 1013.1,932.8 C1017.4,931.6 1022.1,930.1 1025.1,929.3 C1028.1,928.6 1030.1,928.3 1031.0,928.1"/>
<path d="M1025.1,921.7 L1037.0,923.4 L1031.0,936.2"/>
</g>
<g font-family="'Liberation Sans',sans-serif" font-style="italic" fill="#fff" stroke="#fff" stroke-width=".35" font-size="22.3">
<text x="117.0" y="457.1" textLength="57.7" lengthAdjust="spacingAndGlyphs">CA-21</text>
<text x="485.3" y="616.8" textLength="55.0" lengthAdjust="spacingAndGlyphs">TX-24</text>
<text x="938.4" y="435.0" textLength="58.2" lengthAdjust="spacingAndGlyphs">PA-10</text>
<text x="1151.0" y="662.7" textLength="43.6" lengthAdjust="spacingAndGlyphs">NJ-2</text>
<text x="887.8" y="945.1" textLength="55.1" lengthAdjust="spacingAndGlyphs">FL-26</text>
<text x="1202.5" y="352.0" textLength="59.1" lengthAdjust="spacingAndGlyphs" stroke-width=".9" font-size="22.6">NY-11</text>
</g>
<defs><linearGradient id="gp" x1="0" x2="1"><stop offset="0" stop-color="#d2b9d5"/><stop offset=".5" stop-color="#efd5f2"/><stop offset=".8" stop-color="#f9e3fb"/><stop offset="1" stop-color="#fdf2fe"/></linearGradient><linearGradient id="go" x1="0" x2="1"><stop offset="0" stop-color="#ffd46c"/><stop offset=".5" stop-color="#ffa940"/><stop offset="1" stop-color="#ff7a00"/></linearGradient></defs>
<rect x="82" y="993" width="168" height="13" fill="url(#gp)"/>
<rect x="250" y="993" width="168" height="13" fill="url(#go)"/>
<g stroke="#111" stroke-width="1.6" fill="none">
<path d="M97.5,994 V1013.5"/>
<path d="M201,994 V1013.5"/>
<path d="M295.8,994 V1013.5"/>
<path d="M382.3,994 V1013.5"/>
<path d="M230.4,970.5 H249.7 V996"/>
<circle cx="249.7" cy="999.5" r="3.5" fill="#fff"/>
</g>
<g font-family="'Liberation Sans',sans-serif" font-style="italic" fill="#111">
<text x="79" y="947.4" font-size="20.3" stroke="#111" stroke-width=".65" textLength="411" lengthAdjust="spacingAndGlyphs">Percent concerned about climate change</text>
<text x="78.3" y="978" font-size="19.8" textLength="146" lengthAdjust="spacingAndGlyphs">Median: 62.4%</text>
<text x="77.5" y="1035.2" font-size="20.6" textLength="43" lengthAdjust="spacingAndGlyphs">55%</text>
<text x="179.8" y="1035.2" font-size="20.6" textLength="43" lengthAdjust="spacingAndGlyphs">60%</text>
<text x="274" y="1035.2" font-size="20.6" textLength="43" lengthAdjust="spacingAndGlyphs">65%</text>
<text x="362" y="1035.2" font-size="20.6" textLength="43" lengthAdjust="spacingAndGlyphs">70%</text>
</g>
<g font-family="'Liberation Sans',sans-serif">
<text x="29.5" y="89.2" font-size="52.5" font-weight="bold" fill="#333" textLength="495.3" lengthAdjust="spacingAndGlyphs">Turning up the heat</text>
<text x="28.8" y="149.3" font-size="46.5" fill="#333" textLength="973" lengthAdjust="spacingAndGlyphs">Toss-up House races v. District climate concern</text>
<text x="27" y="1080.6" font-size="23.2" fill="#6e6e6e" textLength="1059.4" lengthAdjust="spacingAndGlyphs">Source: Yale Program on Climate Change Communication, Cook Political Report (as of October 2, 2020)</text>
</g>
<g transform="translate(1211,1080.8) scale(.488,1)"><text x="0" y="0" font-family="'Liberation Serif',serif" font-size="62" fill="#000" stroke="#000" stroke-width="1.3" textLength="120" lengthAdjust="spacingAndGlyphs">grist</text></g>
<rect x="1236" y="1030" width="16" height="19.6" fill="#fff"/>
<ellipse cx="1243.5" cy="1087.4" rx="2.4" ry="3.3" fill="#f26a0f"/>
</svg>
</body></html>
